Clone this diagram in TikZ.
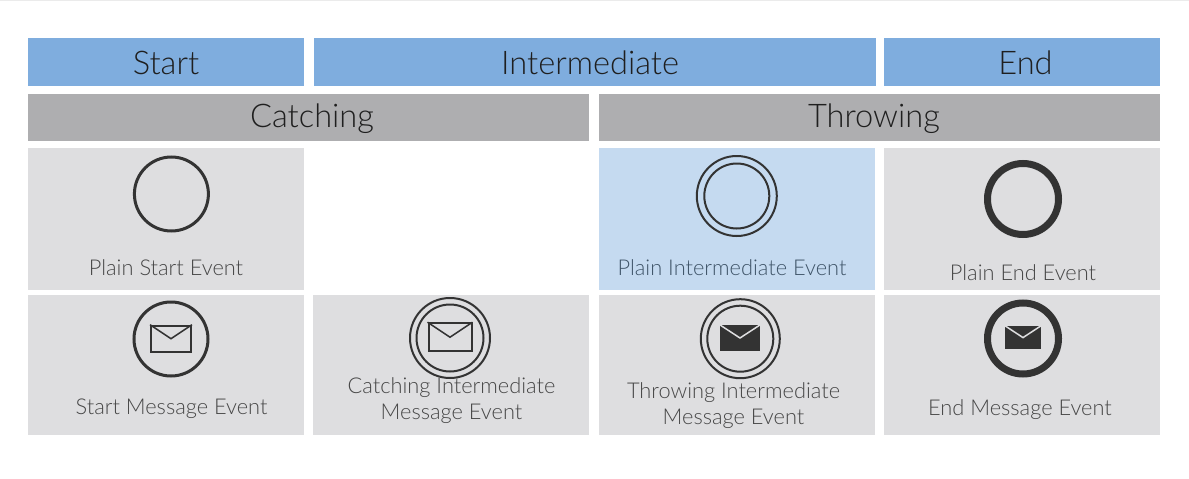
\documentclass[tikz,border=0pt]{standalone}
\usepackage{fontspec}
\setmainfont{Lato Light}
\definecolor{headblue}{HTML}{7FADDE}
\definecolor{subgrey}{HTML}{AEAEB0}
\definecolor{cellgrey}{HTML}{DEDEE0}
\definecolor{cellblue}{HTML}{C5DAF0}
\definecolor{ringdark}{HTML}{333333}
\definecolor{labelblue}{HTML}{3F5468}
\tikzset{
	header/.style={rectangle, inner sep=0pt, minimum height=48pt, fill=headblue},
	subheader/.style={rectangle, inner sep=0pt, minimum height=47pt, minimum width=561pt, fill=subgrey},
	headtext/.style={inner sep=0pt, anchor=base, text=black!88, font=\fontsize{32.6}{36}\selectfont},
	cell/.style={rectangle, inner sep=0pt, minimum width=276pt, fill=cellgrey},
	% labels under the rings
	eventlabel/.style={inner sep=0pt, anchor=base, align=center, text=black!72, font=\fontsize{21.8}{25.7}\selectfont},
	ring/.style={circle, draw=ringdark, inner sep=0pt, fill=none},
	plainring/.style={ring, line width=3pt, minimum size=74pt},
	thinring/.style={ring, line width=2pt},
	thickring/.style={ring, line width=7pt, minimum size=71pt},
	envelope/.style={rectangle, draw=ringdark, line width=2pt, inner sep=0pt},
	fullenvelope/.style={rectangle, fill=ringdark, inner sep=0pt},
}

\begin{document}
\begin{tikzpicture}[x=1pt, y=-1pt]
	
	\useasboundingbox (0,0) rectangle (1189,479);
	\fill[white] (0,0) rectangle (1189,479);
	\fill[black!8] (0,0) rectangle (1189,1);
	
	\node (start) [header, minimum width=276pt] at (166,62) {};
	\node (inter) [header, minimum width=562pt] at (594.5,62) {};
	\node (end) [header, minimum width=276pt] at (1022.3,62) {};
	
	\node (catching) [subheader] at (308.5,117) {};
	\node (throwing) [subheader] at (879.7,117) {};
	
	\node (starttext) [headtext] at (166,74) {Start};
	\node (intertext) [headtext] at (590,74) {Intermediate};
	\node (endtext) [headtext] at (1025.5,74) {End};
	\node (catchingtext) [headtext] at (312,127) {Catching};
	\node (throwingtext) [headtext] at (874,127) {Throwing};
	
	\node (c11) [cell, minimum height=141.5pt] at (166,218.8) {};
	\node (c13) [cell, minimum height=141.5pt, fill=cellblue] at (737,218.8) {};
	\node (c14) [cell, minimum height=141.5pt] at (1022.3,218.8) {};
	\node (c21) [cell, minimum height=140.5pt] at (166,364.8) {};
	\node (c22) [cell, minimum height=140pt] at (451,364.5) {};
	\node (c23) [cell, minimum height=140pt] at (737,364.5) {};
	\node (c24) [cell, minimum height=140.5pt] at (1022.3,364.8) {};
	
	% plain events
	\node (r11) [plainring] at (171.4,194) {};
	\node (r13a) [thinring, minimum size=80pt] at (736.8,196) {};
	\node (r13b) [thinring, minimum size=65pt] at (736.8,196) {};
	\node (r14) [thickring] at (1023,199) {};
	
	% message events
	\node (r21) [plainring] at (171,339) {};
	\node (m21) [envelope, minimum width=40pt, minimum height=26pt] at (171,338.7) {};
	\node (r22a) [thinring, minimum size=80pt] at (450,338) {};
	\node (r22b) [thinring, minimum size=67pt] at (450,338) {};
	\node (m22) [envelope, minimum width=43pt, minimum height=28pt] at (450,337.2) {};
	\node (r23a) [thinring, minimum size=79pt] at (740.3,338.7) {};
	\node (r23b) [thinring, minimum size=66pt] at (740.3,338.7) {};
	\node (m23) [fullenvelope, minimum width=40pt, minimum height=26pt] at (740,338) {};
	\node (r24) [thickring] at (1023,338.5) {};
	\node (m24) [fullenvelope, minimum width=36pt, minimum height=23.5pt] at (1023,337.6) {};
	
	\begin{scope}[line width=1.5pt, ringdark]
		\draw (m21.north west) -- (m21.center) -- (m21.north east);
		\draw (m22.north west) -- (m22.center) -- (m22.north east);
	\end{scope}
	\begin{scope}[line width=1.5pt, cellgrey]
		\draw (m23.north west) -- (m23.center) -- (m23.north east);
		\draw (m24.north west) -- (m24.center) -- (m24.north east);
	\end{scope}
	
	\node (l11) [eventlabel] at (166,275) {Plain Start Event};
	\node (l13) [eventlabel, text=labelblue] at (732,275) {Plain Intermediate Event};
	\node (l14) [eventlabel] at (1023,280.7) {Plain End Event};
	\node (l21) [eventlabel] at (171.5,414) {Start Message Event};
	\node (l22) [eventlabel] at (451.5,419) {Catching Intermediate\\Message Event};
	\node (l23) [eventlabel] at (733.5,424) {Throwing Intermediate\\Message Event};
	\node (l24) [eventlabel] at (1020,415) {End Message Event};
	
\end{tikzpicture}
\end{document}
